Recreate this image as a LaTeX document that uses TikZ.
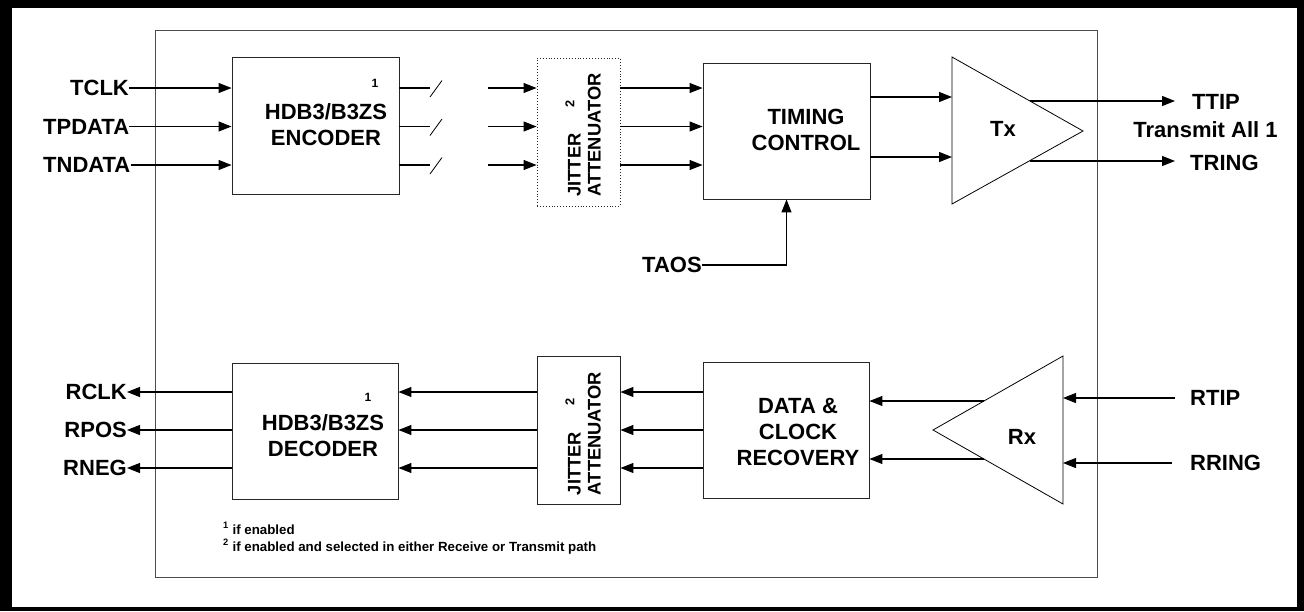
\documentclass[tikz,border=0pt]{standalone}
\usepackage{fontspec}
\setmainfont{Liberation Sans}
\usetikzlibrary{arrows.meta,calc}
\begin{document}
\begin{tikzpicture}[x=1pt,y=-1pt,
  arr/.style={line width=1.1pt,-{Triangle[length=13pt,width=10pt]}},
  wire/.style={line width=1.1pt},
  thin/.style={line width=0.8pt},
  blk/.style={draw=black!85,line width=0.9pt,inner sep=0pt},
  lbl/.style={font=\fontsize{22}{26}\selectfont\bfseries,inner sep=0pt},
  btxt/.style={lbl,align=center},
  jtxt/.style={font=\fontsize{18.3}{20}\selectfont\bfseries,rotate=90,align=left,inner sep=0pt},
  supn/.style={font=\fontsize{12}{14}\selectfont\bfseries,inner sep=0pt},
  foot/.style={font=\fontsize{13.3}{17}\selectfont\bfseries,inner sep=0pt,anchor=base west}]
\useasboundingbox (0,0) rectangle (1304,611);
\fill[black] (0,0) rectangle (1304,611);
\fill[white] (12,8) rectangle (1297,607);
% inner frame
\draw[draw=black!70,line width=0.8pt] (155,30) rectangle (1097,577);

% ---------- transmit path ----------
\node[blk,minimum width=167pt,minimum height=137pt] (enc) at (315.5,125.5) {};
\node[btxt] (enctxt) at (326,124.5) {HDB3/B3ZS\\ENCODER};
\node[supn] (encsup) at (375,83) {1};

\node[blk,dotted,minimum width=83pt,minimum height=148pt] (jit1) at (578.5,132) {};
\node[jtxt] (jit1txt) at (583,135) {JITTER\hspace{26pt}\textsuperscript{2}\\ATTENUATOR};

\node[blk,minimum width=167pt,minimum height=136pt] (tim) at (786.5,131) {};
\node[btxt] (timtxt) at (806,130) {TIMING\\CONTROL};

\coordinate (txa) at (952,57);
\coordinate (txb) at (1083,131);
\coordinate (txc) at (952,204);
\draw[thin] (txa) -- (txb) -- (txc) -- cycle;
\node[lbl] (txlbl) at (1003,129) {Tx};

\node[lbl,anchor=west] (tclk) at (70,88) {TCLK};
\node[lbl,anchor=west] (tpdata) at (43,126.5) {TPDATA};
\node[lbl,anchor=west] (tndata) at (43,165) {TNDATA};
\draw[arr] (tclk.east) -- (enc.west |- tclk.east);
\draw[arr] (tpdata.east) -- (enc.west |- tpdata.east);
\draw[arr] (tndata.east) -- (enc.west |- tndata.east);

% broken lines with slashes
\foreach \yy/\nm in {88/a,126.5/b,165/c}{
  \coordinate (brk\nm) at (430,\yy);
  \coordinate (res\nm) at (488,\yy);
  \draw[wire] (enc.east |- brk\nm) -- (brk\nm);
  \draw[thin] ($(brk\nm)+(0,9)$) -- ($(brk\nm)+(12,-7.5)$);
  \draw[arr] (res\nm) -- (jit1.west |- res\nm);
  \draw[arr] (jit1.east |- res\nm) -- (tim.west |- res\nm);
}

\coordinate (txin1) at (952,97);
\coordinate (txin2) at (952,157);
\draw[arr] (tim.east |- txin1) -- (txin1);
\draw[arr] (tim.east |- txin2) -- (txin2);

\node[lbl,anchor=west] (ttip) at (1192,102) {TTIP};
\node[lbl] (tall) at (1205.5,130) {Transmit All 1};
\node[lbl,anchor=west] (tring) at (1190,163) {TRING};
\coordinate (txo1) at (1030,101);
\coordinate (txo2) at (1029.5,161);
\draw[arr] (txo1) -- ([xshift=-17pt]ttip.west |- txo1);
\draw[arr] (txo2) -- ([xshift=-15pt]tring.west |- txo2);

\node[lbl,anchor=west] (taos) at (642,265) {TAOS};
\draw[arr] (taos.east) -| (tim.south);

% ---------- receive path ----------
\node[blk,minimum width=166pt,minimum height=136pt] (dec) at (315,431) {};
\node[btxt] (dectxt) at (323,435.5) {HDB3/B3ZS\\DECODER};
\node[supn] (decsup) at (368,397) {1};

\node[blk,minimum width=83pt,minimum height=148pt] (jit2) at (578.5,430) {};
\node[jtxt] (jit2txt) at (583,433.5) {JITTER\hspace{26pt}\textsuperscript{2}\\ATTENUATOR};

\node[blk,minimum width=166pt,minimum height=136pt] (dcr) at (786,430) {};
\node[btxt] (dcrtxt) at (798,431.5) {DATA \&\\CLOCK\\RECOVERY};

\coordinate (rxa) at (1063,356);
\coordinate (rxb) at (933,430);
\coordinate (rxc) at (1063,504);
\draw[thin] (rxa) -- (rxb) -- (rxc) -- cycle;
\node[lbl] (rxlbl) at (1022,437) {Rx};

\node[lbl,anchor=east] (rclk) at (127,392) {RCLK};
\node[lbl,anchor=east] (rpos) at (127,430) {RPOS};
\node[lbl,anchor=east] (rneg) at (127,468) {RNEG};
\draw[arr] (dec.west |- rclk.east) -- (rclk.east);
\draw[arr] (dec.west |- rpos.east) -- (rpos.east);
\draw[arr] (dec.west |- rneg.east) -- (rneg.east);

\foreach \yy/\nm in {392/a,430/b,468/c}{
  \coordinate (row\nm) at (700,\yy);
  \draw[arr] (jit2.west |- row\nm) -- (dec.east |- row\nm);
  \draw[arr] (dcr.west |- row\nm) -- (jit2.east |- row\nm);
}

\coordinate (rxo1) at (984,401);
\coordinate (rxo2) at (984,459);
\draw[arr] (rxo1) -- (dcr.east |- rxo1);
\draw[arr] (rxo2) -- (dcr.east |- rxo2);

\node[lbl,anchor=west] (rtip) at (1190,398) {RTIP};
\node[lbl,anchor=west] (rring) at (1190,463) {RRING};
\draw[arr] ([xshift=-15pt]rtip.west) -- (rxa |- rtip.west);
\draw[arr] ([xshift=-18pt]rring.west) -- (rxa |- rring.west);

% footnotes
\node[foot] (fn1) at (223,534) {\textsuperscript{1} if enabled};
\node[foot] (fn2) at (223,551) {\textsuperscript{2} if enabled and selected in either Receive or Transmit path};
\end{tikzpicture}
\end{document}
